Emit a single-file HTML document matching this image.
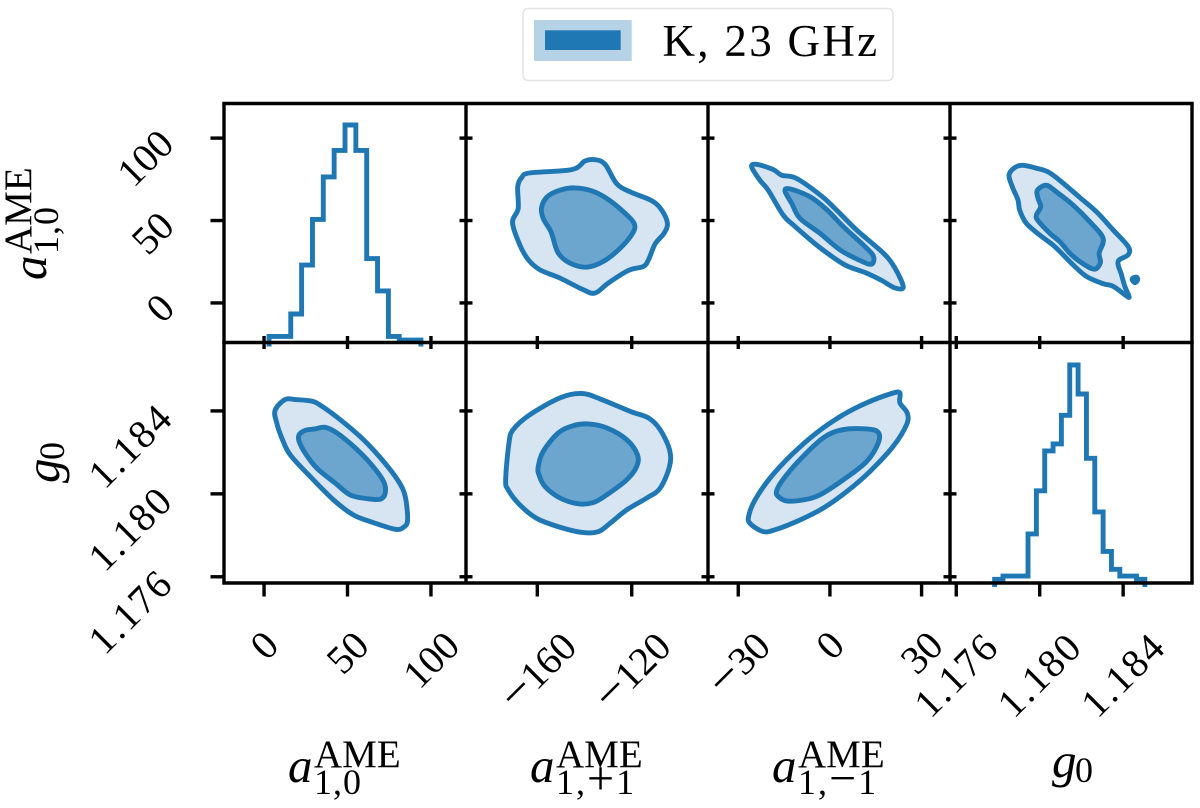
<!DOCTYPE html>
<html lang="en">
<head>
<meta charset="utf-8">
<title>Corner plot K, 23 GHz</title>
<style>
html,body{margin:0;padding:0;background:#fff;}
svg{display:block;font-family:"Liberation Serif",serif;}
text{fill:#000;}
</style>
</head>
<body>
<svg id="plot" xmlns="http://www.w3.org/2000/svg" width="1200" height="808" viewBox="0 0 1200 808">
  <rect x="0" y="0" width="1200" height="808" fill="#fff"/>
  <g id="panels"></g>
  <g id="axes"></g>

  <g>
    <rect x="523" y="8.5" width="370" height="72" rx="5" ry="5" fill="#fff" stroke="#e3e3e3" stroke-width="1.5"/>
    <rect x="534" y="20" width="97.7" height="41" fill="#b5d2e7"/>
    <rect x="545" y="30.3" width="75.7" height="19.7" fill="#1f77b4"/>
    <text x="662.5" y="56" font-size="45" style="letter-spacing:2.3px">K, 23 GHz</text>
  </g>

  <g>
    <text x="288" y="782" font-size="49" font-style="italic">a</text>
    <text x="314" y="767" font-size="39">AME</text>
    <text x="314" y="794" font-size="36" style="letter-spacing:1px">1,0</text>
  </g>
  <g>
    <text x="530" y="782" font-size="49" font-style="italic">a</text>
    <text x="556" y="767" font-size="39">AME</text>
    <text x="556" y="794" font-size="36" style="letter-spacing:2px">1,<tspan font-size="48">+</tspan>1</text>
  </g>
  <g>
    <text x="772" y="782" font-size="49" font-style="italic">a</text>
    <text x="798" y="767" font-size="39">AME</text>
    <text x="798" y="794" font-size="36" style="letter-spacing:2px">1,<tspan font-size="48">−</tspan>1</text>
  </g>
  <g>
    <text x="1052" y="777" font-size="49" font-style="italic">g</text>
    <text x="1075" y="782" font-size="36">0</text>
  </g>

  <g transform="translate(46,280) rotate(-90)">
    <text x="0" y="0" font-size="49" font-style="italic">a</text>
    <text x="26" y="-15" font-size="39">AME</text>
    <text x="26" y="12" font-size="36" style="letter-spacing:1px">1,0</text>
  </g>
  <g transform="translate(59,483) rotate(-90)">
    <text x="0" y="0" font-size="49" font-style="italic">g</text>
    <text x="23" y="5" font-size="36">0</text>
  </g>
</svg>

<script>
// Axis limits (data units) and tick values
const limA10 = [-24, 121];
const limAp1 = [-190.2, -87.7];
const limAm1 = [-39.9, 39.3];
const limG0 = [1.1757, 1.1873];
const ticksA10 = [0, 50, 100];
const ticksAp1 = [-160, -120];
const ticksAm1 = [-30, 0, 30];
const ticksG0 = [1.176, 1.180, 1.184];
const labelsA10 = ["0", "50", "100"];
const labelsAp1 = ["−160", "−120"];
const labelsAm1 = ["−30", "0", "30"];
const labelsG0 = ["1.176", "1.180", "1.184"];

// 1-D histograms (relative height, first bin edge, bin width)
const histA10Start = 3;
const histA10Width = 6.5;
const histA10Values = [2.8, 2.8, 13.1, 35.6, 56.6, 76.1, 88.3, 100, 88.3, 38.6, 23.7, 2.8, 1.1, 1.1];
const histG0Start = 1.17784;
const histG0Width = 0.0004;
const histG0Values = [1.7, 3.2, 3.2, 3.2, 22.5, 42.3, 60.6, 63.8, 76.9, 100, 86.7, 57.2, 32.6, 14.5, 6.3, 3.2, 3.2, 1.7];

// a1,+1 vs a1,0
const ap1A10OuterX = [-170.5,-168.1,-168.3,-166.6,-163.1,-145.4,-139.8,-135.5,-131.3,-126.4,-120.7,-111.5,-107.3,-104.9,-106.3,-110.1,-112.9,-115.1,-121.4,-129.9,-135.5,-140.5,-150.4,-158.9,-163.8,-167.4];
const ap1A10OuterY = [48.7,57.3,70.4,76.1,78.9,80.9,86.1,86.9,84.1,72.4,67.4,62.0,56.3,48.3,42.3,35.8,26.2,22.1,19.7,12.1,6.0,8.0,15.1,20.1,26.2,35.2];
const ap1A10InnerX = [-158.2,-155.8,-150.4,-144.0,-137.0,-130.6,-123.5,-119.0,-119.6,-124.9,-132.0,-139.1,-146.1,-151.1,-153.5,-154.6,-157.5];
const ap1A10InnerY = [57.9,64.4,68.4,69.8,68.0,63.4,55.3,48.3,42.3,33.2,25.2,21.7,24.1,30.2,40.2,44.3,51.3];

// a1,-1 vs a1,0
const am1A10OuterX = [-25.6,-24.0,-18.5,-15.8,-10.9,-2.7,2.2,8.7,17.5,21.3,24.0,21.3,16.9,12.0,6.0,2.2,-4.4,-12.0,-15.3,-20.2,-22.9];
const am1A10OuterY = [82.5,84.1,80.9,77.5,75.5,64.8,56.3,44.3,30.2,21.1,9.7,9.1,13.7,18.1,22.1,26.2,35.2,47.3,53.3,68.4,74.4];
const am1A10InnerX = [-14.7,-13.1,-6.5,-1.1,4.4,10.9,14.2,13.6,9.8,3.3,-3.3,-9.8,-12.5];
const am1A10InnerY = [67.8,69.2,64.4,56.7,46.3,35.2,28.6,23.5,25.8,32.2,42.3,51.3,60.4];

// g0 vs a1,0
const g0A10OuterX = [1.17853,1.1788,1.1792,1.17992,1.1804,1.18096,1.18192,1.18272,1.18352,1.18424,1.18424,1.18376,1.18392,1.18408,1.18429,1.18408,1.18352,1.18304,1.18224,1.1816,1.18072,1.180,1.17936,1.17904,1.17896,1.17869];
const g0A10OuterY = [77.5,82.1,83.5,81.5,79.5,74.4,64.0,55.3,44.3,34.2,29.2,25.2,17.1,10.1,3.6,5.0,10.1,11.7,16.1,23.1,34.2,41.2,48.3,56.3,62.4,70.4];
const g0A10InnerX = [1.17989,1.18032,1.1808,1.1816,1.1824,1.18304,1.18285,1.18291,1.18264,1.18216,1.18152,1.18096,1.18048,1.17992,1.17984,1.18005,1.17992];
const g0A10InnerY = [68.4,71.4,67.4,59.4,49.3,39.2,30.2,24.5,20.5,23.1,29.2,37.2,42.3,49.9,53.3,58.4,63.4];
const g0A10IslandX = [1.18443,1.18462,1.1847,1.18456];
const g0A10IslandY = [14.5,15.7,14.1,12.3];

// a1,0 vs g0
const a10G0OuterX = [6.6,12.6,18.6,28.6,34.6,45.6,59.6,71.6,80.6,84.6,86.0,83.6,78.6,65.6,53.6,41.6,27.6,15.6,10.6,7.6];
const a10G0OuterY = [1.18403,1.18455,1.18455,1.18447,1.18423,1.18358,1.18261,1.18156,1.1806,1.17987,1.17874,1.17839,1.17829,1.17861,1.17898,1.17971,1.18084,1.18189,1.1827,1.18342];
const a10G0InnerX = [21,24.6,30.6,36.6,43.6,53.6,63.6,71.6,72.6,69.6,61.6,51.6,42.6,31.6,24.6,21];
const a10G0InnerY = [1.18285,1.18306,1.18313,1.18321,1.18294,1.18229,1.18148,1.1806,1.18003,1.17974,1.17977,1.17995,1.18052,1.18124,1.18197,1.18253];

// a1,+1 vs g0
const ap1G0OuterX = [-173.4,-172.0,-170.2,-163.1,-150.4,-141.2,-133.4,-120.7,-112.9,-108.0,-104.0,-104.0,-108.0,-113.6,-122.1,-129.2,-134.1,-140.5,-150.4,-160.3,-167.4,-172.3];
const ap1G0OuterY = [1.18068,1.18245,1.1831,1.18382,1.18463,1.18484,1.18458,1.18398,1.18366,1.1831,1.18213,1.18132,1.18027,1.1798,1.17923,1.17858,1.17818,1.17813,1.17839,1.17882,1.17947,1.18019];
const ap1G0InnerX = [-159.6,-157.5,-151.1,-144.7,-138.4,-130.6,-122.1,-117.6,-117.9,-122.1,-130.6,-136.3,-142.6,-150.4,-156.8,-159.3];
const ap1G0InnerY = [1.18132,1.18205,1.18294,1.18329,1.18337,1.18318,1.18261,1.18189,1.18132,1.18068,1.17995,1.17958,1.17952,1.1798,1.18036,1.18092];

// a1,-1 vs g0
const am1G0OuterX = [-26.5,-24.5,-19.6,-12.5,-4.4,4.4,12.0,20.2,22.9,22.9,25.3,25.1,20.7,13.1,5.5,-2.2,-9.8,-17.5,-21.8,-26.2];
const am1G0OuterY = [1.17898,1.17971,1.18076,1.18189,1.18294,1.18382,1.18439,1.18484,1.18487,1.18439,1.1839,1.18334,1.18229,1.18108,1.18011,1.17931,1.17874,1.17829,1.17818,1.17858];
const am1G0InnerX = [-17.5,-15.8,-10.4,-2.2,4.4,12.0,15.8,15.8,12.0,4.4,-3.3,-8.7,-14.2,-16.9];
const am1G0InnerY = [1.18011,1.1806,1.18156,1.1827,1.1831,1.18313,1.18297,1.18245,1.18156,1.18068,1.17995,1.17971,1.17966,1.17987];

const NS = "http://www.w3.org/2000/svg";
const panelsG = document.getElementById("panels");
const axesG = document.getElementById("axes");
const colEdges = [224, 466, 708, 950, 1192];
const rowEdges = [103.5, 342.5, 583];
const LINE = "#1f77b4";
const LINE_W = "4.9";

function linear(lim, r0, r1) {
  return function (v) { return r0 + (v - lim[0]) / (lim[1] - lim[0]) * (r1 - r0); };
}
const xA10 = linear(limA10, colEdges[0], colEdges[1]);
const xAp1 = linear(limAp1, colEdges[1], colEdges[2]);
const xAm1 = linear(limAm1, colEdges[2], colEdges[3]);
const xG0 = linear(limG0, colEdges[3], colEdges[4]);
const yA10 = linear(limA10, rowEdges[1], rowEdges[0]);
const yG0 = linear(limG0, rowEdges[2], rowEdges[1]);

function make(tag, parent) {
  const el = document.createElementNS(NS, tag);
  parent.appendChild(el);
  return el;
}

function closedPath(xs, ys, sx, sy) {
  const p = xs.map(function (x, i) { return [sx(x), sy(ys[i])]; });
  const n = p.length;
  let d = "M" + p[0][0].toFixed(2) + " " + p[0][1].toFixed(2);
  for (let i = 0; i < n; i++) {
    const p0 = p[(i - 1 + n) % n], p1 = p[i], p2 = p[(i + 1) % n], p3 = p[(i + 2) % n];
    const c1x = p1[0] + (p2[0] - p0[0]) / 6, c1y = p1[1] + (p2[1] - p0[1]) / 6;
    const c2x = p2[0] - (p3[0] - p1[0]) / 6, c2y = p2[1] - (p3[1] - p1[1]) / 6;
    d += "C" + c1x.toFixed(2) + " " + c1y.toFixed(2) + " " + c2x.toFixed(2) + " " + c2y.toFixed(2) + " " + p2[0].toFixed(2) + " " + p2[1].toFixed(2);
  }
  return d + "Z";
}

function drawContour(name, xs, ys, sx, sy, fill) {
  const el = make("path", panelsG);
  el.setAttribute("d", closedPath(xs, ys, sx, sy));
  el.setAttribute("fill", fill);
  el.setAttribute("stroke", LINE);
  el.setAttribute("stroke-width", LINE_W);
  el.setAttribute("stroke-linejoin", "round");
  
  
}

const OUTER = "#d6e5f1";
const INNER = "#6ca5ce";
drawContour("contour-a1p1-a10-outer", ap1A10OuterX, ap1A10OuterY, xAp1, yA10, OUTER);
drawContour("contour-a1p1-a10-inner", ap1A10InnerX, ap1A10InnerY, xAp1, yA10, INNER);
drawContour("contour-a1m1-a10-outer", am1A10OuterX, am1A10OuterY, xAm1, yA10, OUTER);
drawContour("contour-a1m1-a10-inner", am1A10InnerX, am1A10InnerY, xAm1, yA10, INNER);
drawContour("contour-g0-a10-outer", g0A10OuterX, g0A10OuterY, xG0, yA10, OUTER);
drawContour("contour-g0-a10-inner", g0A10InnerX, g0A10InnerY, xG0, yA10, INNER);
drawContour("contour-g0-a10-island", g0A10IslandX, g0A10IslandY, xG0, yA10, LINE);
drawContour("contour-a10-g0-outer", a10G0OuterX, a10G0OuterY, xA10, yG0, OUTER);
drawContour("contour-a10-g0-inner", a10G0InnerX, a10G0InnerY, xA10, yG0, INNER);
drawContour("contour-a1p1-g0-outer", ap1G0OuterX, ap1G0OuterY, xAp1, yG0, OUTER);
drawContour("contour-a1p1-g0-inner", ap1G0InnerX, ap1G0InnerY, xAp1, yG0, INNER);
drawContour("contour-a1m1-g0-outer", am1G0OuterX, am1G0OuterY, xAm1, yG0, OUTER);
drawContour("contour-a1m1-g0-inner", am1G0InnerX, am1G0InnerY, xAm1, yG0, INNER);

function drawHist(name, values, start, width, sx, baseY, peakPx) {
  const sh = function (v) { return baseY - v / 100 * peakPx; };
  let d = "M" + sx(start).toFixed(2) + " " + (baseY + 4);
  values.forEach(function (v, i) {
    d += "V" + sh(v).toFixed(2) + "H" + sx(start + (i + 1) * width).toFixed(2);
  });
  d += "V" + (baseY + 4);
  const el = make("path", panelsG);
  el.setAttribute("d", d);
  el.setAttribute("fill", "none");
  el.setAttribute("stroke", LINE);
  el.setAttribute("stroke-width", LINE_W);
  el.setAttribute("stroke-linejoin", "miter");
  
  
}
drawHist("histogram-a10", histA10Values, histA10Start, histA10Width, xA10, rowEdges[1], 217.5);
drawHist("histogram-g0", histG0Values, histG0Start, histG0Width, xG0, rowEdges[2], 218);

function drawLine(name, x1, y1, x2, y2) {
  const el = make("line", axesG);
  el.setAttribute("x1", x1);
  el.setAttribute("y1", y1);
  el.setAttribute("x2", x2);
  el.setAttribute("y2", y2);
  el.setAttribute("stroke", "#000");
  el.setAttribute("stroke-width", "3.4");
  
  
}

// Spines
drawLine("spine-top", colEdges[0] - 1.7, rowEdges[0], colEdges[4] + 1.7, rowEdges[0]);
drawLine("spine-middle", colEdges[0] - 1.7, rowEdges[1], colEdges[4] + 1.7, rowEdges[1]);
drawLine("spine-bottom", colEdges[0] - 1.7, rowEdges[2], colEdges[4] + 1.7, rowEdges[2]);
colEdges.forEach(function (cx) {
  drawLine("spine-vertical", cx, rowEdges[0], cx, rowEdges[2]);
});

// Ticks along the two rows and four columns
const xAxes = [[xA10, ticksA10], [xAp1, ticksAp1], [xAm1, ticksAm1], [xG0, ticksG0]];
const yAxes = [[yA10, ticksA10], [yG0, ticksG0]];
xAxes.forEach(function (ax) {
  ax[1].forEach(function (t) {
    const px = ax[0](t);
    drawLine("x-tick-middle", px, rowEdges[1] - 6.5, px, rowEdges[1] + 6.5);
    drawLine("x-tick-bottom", px, rowEdges[2], px, rowEdges[2] + 13.5);
  });
});
yAxes.forEach(function (ax) {
  ax[1].forEach(function (t) {
    const py = ax[0](t);
    drawLine("y-tick-left", colEdges[0] - 13.5, py, colEdges[0], py);
    [1, 2, 3].forEach(function (c) {
      drawLine("y-tick-inner", colEdges[c] - 6.5, py, colEdges[c] + 6.5, py);
    });
  });
});

function drawLabel(name, str, place) {
  const el = make("text", axesG);
  el.setAttribute("font-size", "40");
  el.setAttribute("text-anchor", "middle");
  el.setAttribute("dominant-baseline", "central");
  
  
  if (str.indexOf("−") === 0) {
    const minus = make("tspan", el);
    minus.setAttribute("font-size", "52");
    minus.textContent = "−";
    const rest = make("tspan", el);
    rest.textContent = str.slice(1);
  } else {
    el.textContent = str;
  }
  if (str.indexOf(".") >= 0) {
    el.style.letterSpacing = "2px";
  }
  const L = el.getComputedTextLength();
  const c = place(L);
  el.setAttribute("x", c[0].toFixed(1));
  el.setAttribute("y", c[1].toFixed(1));
  el.setAttribute("transform", "rotate(-45 " + c[0].toFixed(1) + " " + c[1].toFixed(1) + ")");
}

function xLabels(sx, ticks, labels) {
  ticks.forEach(function (t, i) {
    drawLabel("x-tick-label", labels[i], function (L) {
      return [sx(t), 645 + (L - 20) * 0.37];
    });
  });
}
xLabels(xA10, ticksA10, labelsA10);
xLabels(xAp1, ticksAp1, labelsAp1);
xLabels(xAm1, ticksAm1, labelsAm1);
xLabels(xG0, ticksG0, labelsG0);

function yLabels(sy, ticks, labels) {
  ticks.forEach(function (t, i) {
    drawLabel("y-tick-label", labels[i], function (L) {
      return [160 - (L - 20) * 0.37, sy(t) + 5 + (L - 20) * 0.37];
    });
  });
}
yLabels(yA10, ticksA10, labelsA10);
yLabels(yG0, ticksG0, labelsG0);
</script>
</body>
</html>
